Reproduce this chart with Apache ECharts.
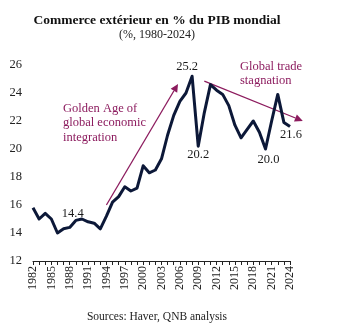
<!DOCTYPE html>
<html>
<head>
<meta charset="utf-8">
<script src="https://cdn.jsdelivr.net/npm/echarts@6/dist/echarts.min.js"></script>
<style>
html,body{margin:0;padding:0;background:#fff;}
#c{width:340px;height:331px;}
</style>
</head>
<body>
<div id="c"></div>
<script>
const years = [1982,1983,1984,1985,1986,1987,1988,1989,1990,1991,1992,1993,1994,1995,1996,1997,1998,1999,2000,2001,2002,2003,2004,2005,2006,2007,2008,2009,2010,2011,2012,2013,2014,2015,2016,2017,2018,2019,2020,2021,2022,2023,2024];
const tradeShare = [15.8,15.0,15.4,15.0,14.0,14.3,14.4,14.9,15.0,14.8,14.7,14.3,15.2,16.2,16.6,17.3,17.0,17.2,18.8,18.3,18.5,19.3,21.0,22.4,23.4,24.0,25.2,20.2,22.6,24.6,24.2,23.9,23.1,21.7,20.8,21.4,22.0,21.2,20.0,22.0,23.9,21.9,21.6];
const labelledYears = {1988:'top',2008:'top',2009:'bottom',2020:'bottom',2024:'bottom'};
const labelOffsets = {2008:[-5,2],2009:[0,-2],2020:[3,0],2024:[1,-3],1988:[3,-3]};
const yTicks = [12,14,16,18,20,22,24,26];
const titleText = 'Commerce extérieur en % du PIB mondial';
const subtitleText = '(%, 1980-2024)';
const sourceText = 'Sources: Haver, QNB analysis';
const annoGolden = 'Golden Age of\nglobal economic\nintegration';
const annoStag = 'Global trade\nstagnation';
const arrowGolden = [[1994.0,16.0],[2005.7,24.65]];
const arrowStag = [[2010.0,24.85],[2026.1,22.0]];

const serif = "'Liberation Serif','Times New Roman',serif";
const purple = '#8c1b5e';
const navy = '#0c1838';

const seriesData = years.map((y,i)=>{
  const item = {value:[y,tradeShare[i]]};
  if (labelledYears[y]) {
    item.label = {show:true, position:labelledYears[y], offset:labelOffsets[y]||[0,0], distance:4,
      formatter: p=>p.value[1].toFixed(1), fontFamily:serif, fontSize:12.5, color:'#1a1a1a'};
  }
  return item;
});

const chart = echarts.init(document.getElementById('c'), null, {renderer:'canvas'});
chart.setOption({
  animation:false,
  backgroundColor:'#fff',
  grid:{left:33, right:50, top:65, bottom:70, containLabel:false},
  xAxis:{
    type:'value', min:years[0], max:years[years.length-1], interval:1,
    splitLine:{show:false},
    axisLine:{show:true, lineStyle:{color:'#222', width:1}},
    axisTick:{show:true, length:4, lineStyle:{color:'#222'}},
    axisLabel:{rotate:90, margin:5, fontFamily:serif, fontSize:12, color:'#222',
      formatter: v => ((v - years[0]) % 3 === 0 ? String(v) : '')},
  },
  yAxis:{
    type:'value', min:yTicks[0], max:yTicks[yTicks.length-1], interval:2,
    splitLine:{show:false}, axisLine:{show:false}, axisTick:{show:false},
    axisLabel:{margin:11, fontFamily:serif, fontSize:12.5, color:'#222'}
  },
  series:[{
    type:'line', data:seriesData, showSymbol:true, showAllSymbol:true, symbol:'circle', symbolSize:1,
    itemStyle:{color:'rgba(0,0,0,0)', borderWidth:0},
    label:{show:false},
    lineStyle:{color:navy, width:3, join:'round'}, clip:false
  }]
});

function arrow(pts){
  const a = chart.convertToPixel({gridIndex:0}, pts[0]);
  const b = chart.convertToPixel({gridIndex:0}, pts[1]);
  const dx=b[0]-a[0], dy=b[1]-a[1], L=Math.hypot(dx,dy);
  const ux=dx/L, uy=dy/L, hl=8, hw=3.8;
  const base=[b[0]-ux*hl, b[1]-uy*hl];
  return [
    {type:'line', shape:{x1:a[0],y1:a[1],x2:base[0],y2:base[1]}, style:{stroke:purple, lineWidth:1.3}},
    {type:'polygon', shape:{points:[b,[base[0]-uy*hw, base[1]+ux*hw],[base[0]+uy*hw, base[1]-ux*hw]]}, style:{fill:purple}}
  ];
}
chart.setOption({
  graphic:[
    ...arrow(arrowGolden),
    ...arrow(arrowStag),
    {type:'text', x:157, y:21, style:{text:titleText, fill:'#111', font:"bold 13.5px "+serif, textAlign:'center', textVerticalAlign:'middle'}},
    {type:'text', x:157, y:35, style:{text:subtitleText, fill:'#222', font:"12px "+serif, textAlign:'center', textVerticalAlign:'middle'}},
    {type:'text', x:157, y:317, style:{text:sourceText, fill:'#222', font:"11.5px "+serif, textAlign:'center', textVerticalAlign:'middle'}},
    {type:'text', left:63, top:101, style:{text:annoGolden, fill:purple, font:"12.5px "+serif, lineHeight:14.5}},
    {type:'text', left:240, top:59, style:{text:annoStag, fill:purple, font:"12.5px "+serif, lineHeight:14.5}}
  ]
});
</script>
</body>
</html>
